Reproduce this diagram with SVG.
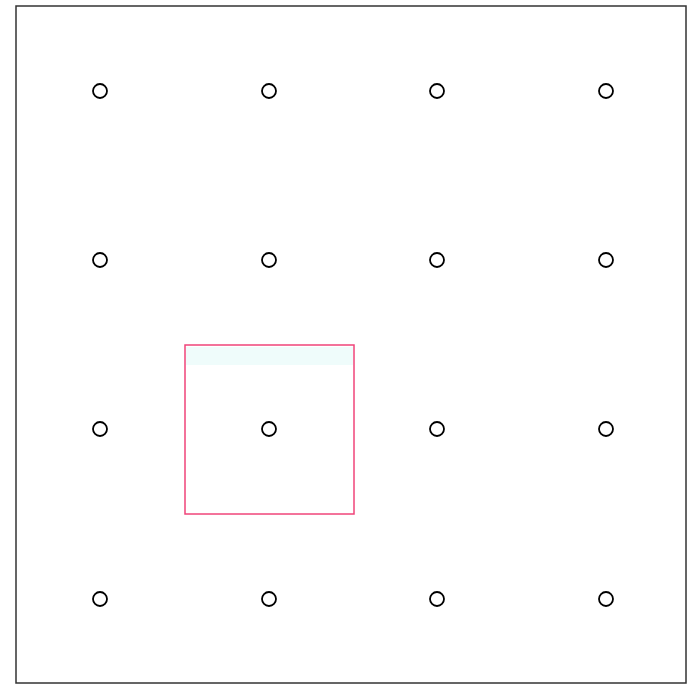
<svg xmlns="http://www.w3.org/2000/svg" width="689" height="684" viewBox="0 0 689 684">
<style>
.pt{fill:#fff;stroke:#000;stroke-width:1.8}
</style>
<rect x="0" y="0" width="689" height="684" fill="#fff"/>
<rect id="frame" x="16" y="6" width="670" height="677" fill="none" stroke="#333" stroke-width="1.5"/>
<g id="highlight">
<rect x="186" y="347" width="167" height="18" fill="#effcfb"/>
<rect x="185" y="345" width="169" height="169" fill="none" stroke="#f0447a" stroke-width="1.5"/>
</g>
<g id="grid">
<circle class="pt" cx="100" cy="91" r="7"/><circle class="pt" cx="269" cy="91" r="7"/><circle class="pt" cx="437" cy="91" r="7"/><circle class="pt" cx="606" cy="91" r="7"/>
<circle class="pt" cx="100" cy="260" r="7"/><circle class="pt" cx="269" cy="260" r="7"/><circle class="pt" cx="437" cy="260" r="7"/><circle class="pt" cx="606" cy="260" r="7"/>
<circle class="pt" cx="100" cy="429" r="7"/><circle class="pt" cx="269" cy="429" r="7"/><circle class="pt" cx="437" cy="429" r="7"/><circle class="pt" cx="606" cy="429" r="7"/>
<circle class="pt" cx="100" cy="599" r="7"/><circle class="pt" cx="269" cy="599" r="7"/><circle class="pt" cx="437" cy="599" r="7"/><circle class="pt" cx="606" cy="599" r="7"/>
</g>
</svg>
